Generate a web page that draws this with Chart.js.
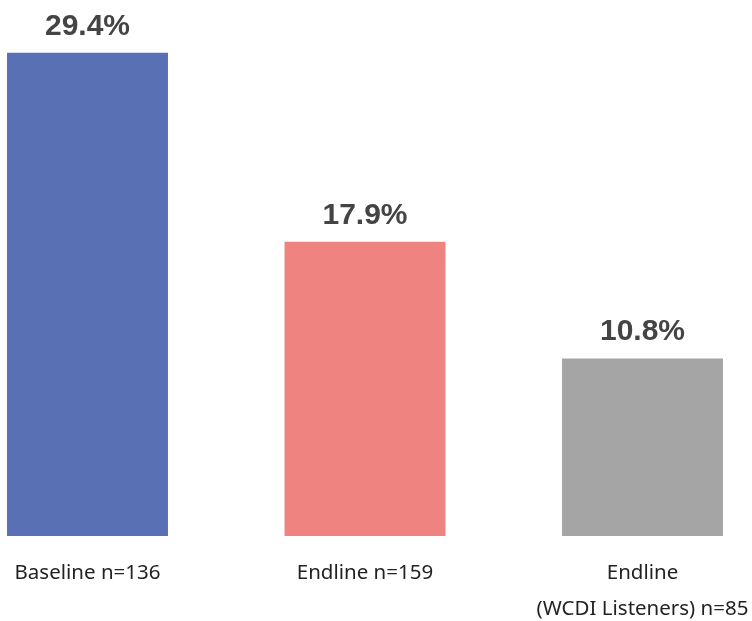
<!DOCTYPE html>
<html>
<head>
<meta charset="utf-8">
<script src="https://cdn.jsdelivr.net/npm/chart.js@4"></script>
<style>
  html, body { margin: 0; padding: 0; background: #fff; }
  #wrap { width: 752px; height: 621px; position: relative; }
</style>
</head>
<body>
<div id="wrap"><canvas id="chart"></canvas></div>
<script>
// survey groups and share of respondents (%)
var categories = ['Baseline n=136', 'Endline n=159', ['Endline', '(WCDI Listeners) n=85']];
var values = [29.4, 17.9, 10.8];
var barColors = ['#5970b4', '#ef837f', '#a5a5a5'];

// percentage above each bar
var valueLabels = {
    id: 'valueLabels',
    afterDatasetsDraw: function (chart) {
        var ctx = chart.ctx;
        var meta = chart.getDatasetMeta(0);
        ctx.save();
        ctx.fillStyle = '#444444';
        ctx.font = 'bold 30px "Liberation Sans", Arial, sans-serif';
        ctx.textAlign = 'center';
        ctx.textBaseline = 'alphabetic';
        meta.data.forEach(function (bar, i) {
            ctx.fillText(values[i].toFixed(1) + '%', bar.x, bar.y - 18);
        });
        ctx.restore();
    }
};

// category names under the bars
var categoryLabels = {
    id: 'categoryLabels',
    afterDraw: function (chart) {
        var ctx = chart.ctx;
        var xScale = chart.scales.x;
        var top = chart.chartArea.bottom + 37;
        ctx.save();
        ctx.fillStyle = '#222222';
        ctx.font = '20.5px "Noto Sans", sans-serif';
        ctx.textAlign = 'center';
        ctx.textBaseline = 'middle';
        categories.forEach(function (label, i) {
            var lines = Array.isArray(label) ? label : [label];
            var x = xScale.getPixelForValue(i);
            lines.forEach(function (line, j) {
                ctx.fillText(line, x, top + j * 36);
            });
        });
        ctx.restore();
    }
};

new Chart(document.getElementById('chart'), {
    type: 'bar',
    data: {
        labels: categories,
        datasets: [{
            data: values,
            backgroundColor: barColors,
            borderWidth: 0,
            categoryPercentage: 1,
            barPercentage: 0.58,
            clip: false
        }]
    },
    options: {
        responsive: true,
        maintainAspectRatio: false,
        animation: false,
        layout: { padding: { top: 10, bottom: 85, left: 87.5, right: 109.5 } },
        plugins: {
            legend: { display: false },
            tooltip: { enabled: false }
        },
        scales: {
            x: { display: false, offset: false, grid: { offset: false } },
            y: { display: false, min: 0, max: 32 }
        }
    },
    plugins: [valueLabels, categoryLabels]
});
</script>
</body>
</html>
